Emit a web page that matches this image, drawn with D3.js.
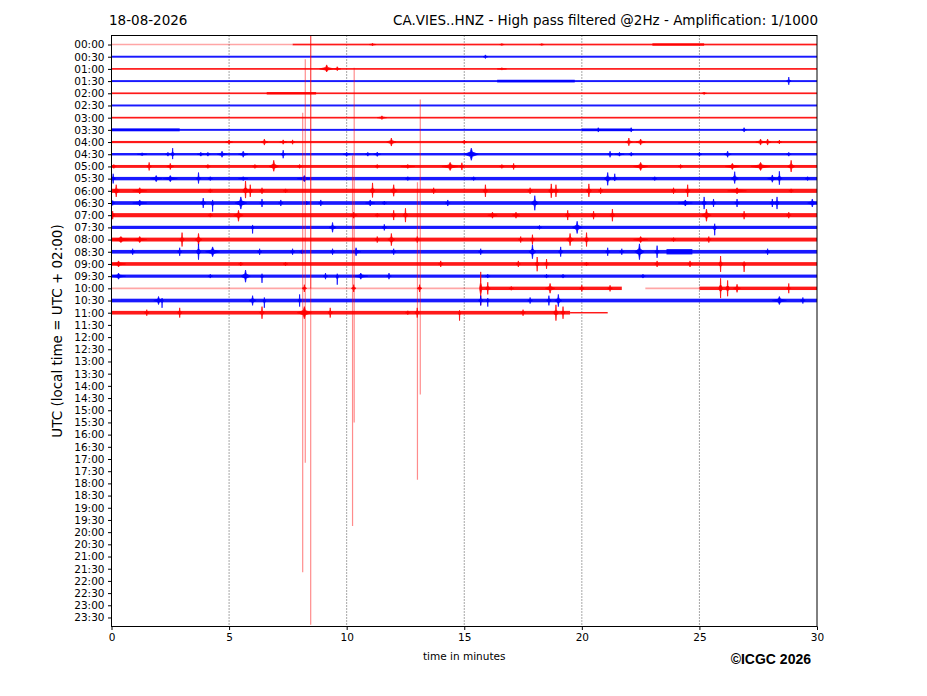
<!DOCTYPE html>
<html>
<head>
<meta charset="utf-8">
<script src="https://cdn.jsdelivr.net/npm/d3@7"></script>
<style>
body { margin: 0; background: #fff; }
text { font-family: "DejaVu Sans", sans-serif; }
</style>
</head>
<body>
<script>
// row labels, one per half hour
const hours = ["00:00","00:30","01:00","01:30","02:00","02:30","03:00","03:30",
  "04:00","04:30","05:00","05:30","06:00","06:30","07:00","07:30",
  "08:00","08:30","09:00","09:30","10:00","10:30","11:00","11:30",
  "12:00","12:30","13:00","13:30","14:00","14:30","15:00","15:30",
  "16:00","16:30","17:00","17:30","18:00","18:30","19:00","19:30",
  "20:00","20:30","21:00","21:30","22:00","22:30","23:00","23:30"];
const xTicks = [0, 5, 10, 15, 20, 25, 30];
const gridMinutes = [5, 10, 15, 20, 25];

// background noise band: [row, from min, to min, half amplitude (rows)]
const noise = [
  [0, 7.7, 30, 0.07], [0, 23.0, 25.2, 0.1],
  [1, 0, 30, 0.08],
  [2, 0, 30, 0.07],
  [3, 0, 30, 0.08], [3, 16.4, 19.7, 0.11],
  [4, 0, 30, 0.07], [4, 6.6, 8.7, 0.1],
  [5, 0, 30, 0.08],
  [6, 0, 30, 0.07],
  [7, 0, 30, 0.08], [7, 0, 2.9, 0.12], [7, 20, 22.1, 0.11],
  [8, 0, 30, 0.09],
  [9, 0, 30, 0.1],
  [10, 0, 30, 0.12],
  [11, 0, 30, 0.14],
  [12, 0, 30, 0.17],
  [13, 0, 30, 0.15],
  [14, 0, 30, 0.17],
  [15, 0, 30, 0.13],
  [16, 0, 30, 0.16],
  [17, 0, 30, 0.15], [17, 23.6, 24.7, 0.22],
  [18, 0, 30, 0.15],
  [19, 0, 30, 0.13],
  [20, 15.7, 21.7, 0.14], [20, 25.0, 30, 0.14],
  [21, 0, 30, 0.15],
  [22, 0, 19.5, 0.15], [22, 19.5, 21.1, 0.06]
];

// faint stretches (no live signal): [row, from min, to min]
const faint = [[0, 0, 7.7], [20, 0, 15.7], [20, 22.7, 25.0]];

// bursts: [row, minute, up amp, down amp, half duration (min)]
const events = [
  [0, 11.1, .1, .1, .15], [0, 16.6, .08, .08, .1], [0, 18.3, .08, .08, .1],
  [1, 15.9, .15, .15, .1],
  [2, 9.15, .33, .25, .3], [2, 9.6, .18, .15, .15], [2, 16.6, .1, .1, .2],
  [3, 28.8, .33, .3, .1],
  [4, 25.2, .1, .1, .1],
  [6, 11.5, .15, .15, .2],
  [7, 20.7, .18, .18, .1], [7, 22.1, .18, .18, .1], [7, 26.9, .18, .18, .1],
  [8, 5.0, .18, .18, .15], [8, 6.5, .25, .25, .15], [8, 7.3, .18, .18, .15], [8, 7.7, .18, .18, .1],
  [8, 11.9, .33, .33, .2], [8, 15.0, .16, .16, .1], [8, 22.0, .33, .3, .15], [8, 22.5, .25, .25, .2],
  [8, 27.6, .25, .25, .2], [8, 27.9, .25, .25, .15], [8, 28.4, .16, .16, .1],
  [9, 1.3, .12, .12, .2], [9, 2.4, .16, .16, .1], [9, 2.6, .5, .4, .08], [9, 3.8, .16, .16, .15],
  [9, 4.1, .16, .16, .1], [9, 4.7, .25, .25, .2], [9, 5.6, .25, .25, .2], [9, 7.3, .33, .33, .1],
  [9, 10.0, .16, .16, .15], [9, 10.9, .16, .16, .1], [9, 11.3, .18, .18, .15], [9, 15.3, .5, .5, .3],
  [9, 21.2, .25, .25, .1], [9, 21.6, .16, .16, .2], [9, 22.1, .16, .16, .1], [9, 25.0, .16, .16, .1],
  [9, 26.2, .25, .25, .15], [9, 28.8, .16, .16, .1],
  [10, 0.1, .16, .16, .1], [10, 1.6, .33, .33, .1], [10, 2.5, .25, .25, .15], [10, 4.1, .16, .16, .1],
  [10, 6.1, .16, .16, .1], [10, 6.9, .5, .4, .2], [10, 8.0, .16, .16, .1], [10, 11.3, .16, .16, .1],
  [10, 12.6, .16, .16, .3], [10, 14.4, .33, .33, .35], [10, 14.9, .3, .3, .1], [10, 16.6, .16, .16, .1],
  [10, 17.1, .25, .25, .1], [10, 22.5, .33, .33, .3], [10, 24.2, .16, .16, .1], [10, 26.4, .25, .25, .3],
  [10, 27.6, .33, .33, .4], [10, 28.9, .5, .45, .15],
  [11, 0.07, .4, .4, .1], [11, 1.9, .25, .25, .25], [11, 2.5, .25, .25, .3], [11, 3.7, .5, .4, .1],
  [11, 4.2, .16, .16, .1], [11, 5.6, .16, .16, .2], [11, 8.2, .25, .25, .3], [11, 12.6, .16, .16, .1],
  [11, 15.4, .16, .16, .1], [11, 21.1, .5, .55, .15], [11, 21.4, .4, .2, .1], [11, 23.1, .16, .16, .1],
  [11, 26.5, .57, .4, .15], [11, 28.1, .3, .3, .2], [11, 28.4, .6, .5, .1], [11, 29.6, .16, .16, .1],
  [12, 0.2, .5, .5, .15], [12, 1.2, .25, .25, .3], [12, 4.2, .16, .16, .1], [12, 5.7, .8, .6, .12],
  [12, 5.9, .5, .5, .1], [12, 6.4, .25, .25, .1], [12, 7.4, .16, .16, .1], [12, 11.1, .65, .55, .1],
  [12, 12.0, .5, .45, .15], [12, 13.7, .25, .25, .1], [12, 15.9, .5, .5, .1], [12, 17.8, .25, .25, .1],
  [12, 18.7, .57, .57, .12], [12, 18.9, .5, .5, .1], [12, 20.3, .57, .5, .12], [12, 20.8, .25, .25, .1],
  [12, 23.9, .25, .25, .1], [12, 24.5, .5, .5, .1], [12, 26.6, .25, .25, .4], [12, 28.9, .16, .16, .1],
  [13, 0.05, .2, .2, .1], [13, 1.2, .25, .25, .3], [13, 3.9, .4, .4, .12], [13, 4.3, .25, .7, .06],
  [13, 5.5, .5, .5, .25], [13, 6.4, .33, .33, .1], [13, 7.2, .25, .25, .1], [13, 8.3, .16, .16, .1],
  [13, 8.9, .25, .25, .1], [13, 11.0, .25, .25, .2], [13, 11.6, .16, .16, .1], [13, 14.3, .25, .25, .1],
  [13, 18.0, .6, .6, .15], [13, 24.4, .25, .25, .3], [13, 25.2, .5, .5, .1], [13, 25.6, .33, .33, .1],
  [13, 26.6, .33, .33, .1], [13, 28.1, .33, .33, .1], [13, 28.3, .5, .5, .1], [13, 29.8, .33, .33, .2],
  [14, 0.05, .33, .33, .1], [14, 4.2, .16, .16, .1], [14, 5.4, .4, .5, .2], [14, 10.3, .25, .25, .15],
  [14, 11.3, .16, .16, .1], [14, 12.0, .4, .4, .1], [14, 12.5, .57, .57, .1], [14, 16.2, .25, .25, .2],
  [14, 17.2, .25, .25, .15], [14, 19.4, .4, .4, .1], [14, 20.5, .33, .33, .1], [14, 21.3, .5, .5, .1],
  [14, 25.3, .5, .5, .2], [14, 26.9, .33, .33, .1], [14, 28.8, .25, .25, .1],
  [15, 6.0, .2, .5, .06], [15, 9.4, .4, .4, .15], [15, 11.6, .25, .25, .1], [15, 18.2, .16, .16, .1],
  [15, 19.8, .5, .5, .2], [15, 25.65, .3, .65, .08],
  [16, 0.4, .25, .25, .5], [16, 1.2, .25, .25, .3], [16, 3.0, .57, .57, .1], [16, 3.7, .5, .5, .15],
  [16, 11.3, .25, .25, .1], [16, 11.9, .5, .5, .15], [16, 13.0, .25, .25, .1], [16, 17.4, .25, .25, .1],
  [16, 17.9, .4, .4, .1], [16, 19.5, .5, .5, .15], [16, 20.2, .57, .57, .1], [16, 22.5, .25, .25, .3],
  [16, 23.9, .16, .16, .1], [16, 25.4, .25, .25, .1],
  [17, 0.9, .25, .25, .1], [17, 2.9, .33, .33, .1], [17, 3.7, .65, .65, .1], [17, 4.3, .4, .4, .3],
  [17, 6.3, .25, .25, .1], [17, 7.7, .25, .25, .1], [17, 8.1, .16, .16, .1], [17, 9.4, .25, .25, .1],
  [17, 10.4, .33, .33, .2], [17, 12.0, .25, .25, .1], [17, 15.7, .25, .25, .1], [17, 17.9, .57, .57, .15],
  [17, 19.1, .4, .4, .1], [17, 21.1, .33, .33, .1], [17, 21.7, .25, .25, .1], [17, 22.45, .65, .65, .2],
  [17, 23.2, .5, .5, .1], [17, 27.9, .25, .25, .1],
  [18, 0.3, .25, .25, .3], [18, 5.5, .16, .16, .1], [18, 7.4, .16, .16, .1], [18, 14.0, .25, .25, .1],
  [18, 17.3, .25, .25, .1], [18, 18.1, .57, .6, .08], [18, 18.5, .4, .4, .08], [18, 20.2, .16, .16, .1],
  [18, 23.2, .25, .25, .1], [18, 24.6, .25, .25, .1], [18, 25.9, .65, .65, .08], [18, 26.9, .2, .65, .08],
  [19, 0.3, .25, .25, .3], [19, 4.2, .16, .16, .1], [19, 5.7, .5, .5, .2], [19, 6.4, .2, .55, .06],
  [19, 9.1, .25, .25, .1], [19, 9.6, .2, .7, .06], [19, 10.6, .25, .25, .3], [19, 11.8, .25, .25, .1],
  [19, 16.0, .16, .16, .1], [19, 18.5, .16, .16, .1], [19, 19.2, .16, .16, .1], [19, 22.6, .16, .16, .1],
  [20, 8.2, .3, .3, .1], [20, 10.3, .3, .3, .1], [20, 13.1, .3, .3, .1],
  [20, 15.7, 1.35, 1.4, .05], [20, 16.0, .5, .5, .1], [20, 17.0, .16, .16, .1], [20, 18.65, .4, .4, .2],
  [20, 20.0, .25, .25, .1], [20, 21.2, .25, .25, .1], [20, 25.9, .82, .8, .08], [20, 26.2, .65, .65, .08],
  [20, 26.6, .33, .33, .15], [20, 28.8, .4, .4, .08],
  [21, 2.0, .33, .33, .2], [21, 2.15, .2, .6, .05], [21, 6.0, .4, .4, .15], [21, 6.5, .25, .6, .06],
  [21, 8.0, .5, .5, .06], [21, 15.7, .4, .4, .1], [21, 16.0, .2, .5, .06], [21, 17.8, .25, .25, .1],
  [21, 18.6, .4, .4, .1], [21, 19.0, .5, .5, .15], [21, 28.4, .33, .33, .3], [21, 29.4, .25, .25, .1],
  [22, 1.5, .25, .25, .1], [22, 2.9, .4, .4, .1], [22, 6.4, .5, .5, .1], [22, 8.2, .5, .5, .3],
  [22, 9.3, .4, .4, .1], [22, 12.6, .16, .16, .1], [22, 13.0, .4, .4, .1], [22, 14.8, .2, .65, .05],
  [22, 17.5, .25, .25, .1], [22, 18.9, .65, .65, .1], [22, 19.2, .5, .5, .08]
];

// large swings of the 10:00 trace: [row, minute, up (rows), down (rows)]
const spikes = [
  [20, 8.47, 23, 0], [20, 8.47, 23, 27.6], [20, 8.24, 18.8, 14.3], [20, 8.13, 14.4, 23.3],
  [20, 10.32, 18.1, 11.0], [20, 10.25, 10.9, 19.5], [20, 13.13, 15.5, 8.7], [20, 13.01, 8.7, 15.7]
];

const W = 927, H = 696;
const plotL = 111.5, plotR = 817, plotT = 35.5, plotB = 626.5;
const rowColor = i => (i % 2 === 0 ? "#ff0000" : "#0000ff");

const svg = d3.select("body").append("svg")
    .attr("width", W)
    .attr("height", H);

const x = d3.scaleLinear().domain([0, 30]).range([plotL, plotR]);
const y = d3.scaleLinear().domain([-0.74, 47.74]).range([plotT, plotB]);

svg.append("defs").append("clipPath").attr("id", "plot")
    .append("rect")
    .attr("x", plotL).attr("y", plotT)
    .attr("width", plotR - plotL).attr("height", plotB - plotT);

// dotted grid
svg.append("g").selectAll("line")
    .data(gridMinutes)
    .enter().append("line")
    .attr("x1", d => x(d)).attr("x2", d => x(d))
    .attr("y1", plotT).attr("y2", plotB)
    .attr("stroke", "#000")
    .attr("stroke-width", 0.7)
    .attr("stroke-dasharray", "1,2");

const traces = svg.append("g").attr("clip-path", "url(#plot)");

traces.selectAll("line.faint")
    .data(faint)
    .enter().append("line")
    .attr("class", "faint")
    .attr("x1", d => x(d[1])).attr("x2", d => x(d[2]))
    .attr("y1", d => y(d[0])).attr("y2", d => y(d[0]))
    .attr("stroke", d => rowColor(d[0]))
    .attr("stroke-opacity", 0.35)
    .attr("stroke-width", 1.6);

traces.selectAll("rect.noise")
    .data(noise)
    .enter().append("rect")
    .attr("class", "noise")
    .attr("x", d => x(d[1]))
    .attr("width", d => x(d[2]) - x(d[1]))
    .attr("y", d => y(d[0] - d[3]))
    .attr("height", d => y(d[0] + d[3]) - y(d[0] - d[3]))
    .attr("fill", d => rowColor(d[0]))
    .attr("fill-opacity", 0.9);

// spindle: broad low coda, narrow sharp peak
traces.selectAll("path.event")
    .data(events)
    .enter().append("path")
    .attr("class", "event")
    .attr("d", d => {
        const [r, m, up, down, w] = d;
        const p = [
            [m - w, r], [m - w * 0.15, r - up * 0.35], [m, r - up],
            [m + w * 0.15, r - up * 0.35], [m + w, r],
            [m + w * 0.15, r + down * 0.35], [m, r + down],
            [m - w * 0.15, r + down * 0.35]
        ];
        return "M" + p.map(q => x(q[0]) + "," + y(q[1])).join("L") + "Z";
    })
    .attr("fill", d => rowColor(d[0]))
    .attr("stroke", d => rowColor(d[0]))
    .attr("stroke-width", 0.7)
    .attr("stroke-linejoin", "round");

traces.selectAll("line.spike")
    .data(spikes)
    .enter().append("line")
    .attr("class", "spike")
    .attr("x1", d => x(d[1])).attr("x2", d => x(d[1]))
    .attr("y1", d => y(d[0] - d[2])).attr("y2", d => y(d[0] + d[3]))
    .attr("stroke", d => rowColor(d[0]))
    .attr("stroke-opacity", 0.45)
    .attr("stroke-width", 1.2);

// axes
const yAxis = svg.append("g")
    .attr("transform", "translate(" + plotL + ",0)")
    .call(d3.axisLeft(y)
        .tickValues(d3.range(hours.length))
        .tickFormat(i => hours[i])
        .tickSize(3.5)
        .tickPadding(3.5));
yAxis.select(".domain").remove();
yAxis.selectAll("text").attr("font-size", 10.5).attr("fill", "#000")
    .style("font-family", "'DejaVu Sans', sans-serif");
yAxis.selectAll("line").attr("stroke", "#000");

const xAxis = svg.append("g")
    .attr("transform", "translate(0," + plotB + ")")
    .call(d3.axisBottom(x)
        .tickValues(xTicks)
        .tickSize(3.5)
        .tickPadding(3.5));
xAxis.select(".domain").remove();
xAxis.selectAll("text").attr("font-size", 10.5).attr("fill", "#000")
    .style("font-family", "'DejaVu Sans', sans-serif");
xAxis.selectAll("line").attr("stroke", "#000");

svg.append("rect")
    .attr("x", plotL).attr("y", plotT)
    .attr("width", plotR - plotL).attr("height", plotB - plotT)
    .attr("fill", "none")
    .attr("stroke", "#000")
    .attr("stroke-width", 1);

// titles and labels
svg.append("text")
    .attr("x", 109).attr("y", 25)
    .attr("font-size", 13.5)
    .text("18-08-2026");

svg.append("text")
    .attr("x", 818).attr("y", 25)
    .attr("text-anchor", "end")
    .attr("font-size", 13.5)
    .text("CA.VIES..HNZ - High pass filtered @2Hz - Amplification: 1/1000");

svg.append("text")
    .attr("x", (plotL + plotR) / 2).attr("y", 660)
    .attr("text-anchor", "middle")
    .attr("font-size", 10.5)
    .text("time in minutes");

svg.append("text")
    .attr("transform", "translate(62," + ((plotT + plotB) / 2) + ") rotate(-90)")
    .attr("text-anchor", "middle")
    .attr("font-size", 13.5)
    .text("UTC (local time = UTC + 02:00)");

svg.append("text")
    .attr("x", 811).attr("y", 664)
    .attr("text-anchor", "end")
    .attr("font-size", 14)
    .attr("font-weight", "bold")
    .style("font-family", "'Liberation Sans', Arial, sans-serif")
    .text("©ICGC 2026");
</script>
</body>
</html>
